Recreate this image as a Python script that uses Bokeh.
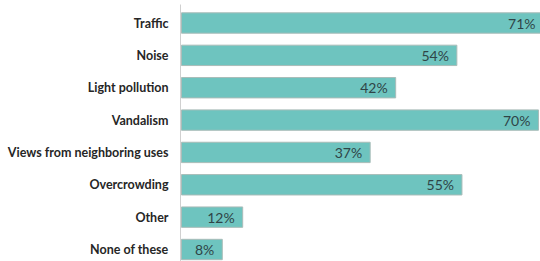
from bokeh.plotting import figure
from bokeh.models import ColumnDataSource, Range1d, FixedTicker
from bokeh.core.properties import value
from bokeh.embed import file_html
from bokeh.resources import INLINE

categories = ["Traffic", "Noise", "Light pollution", "Vandalism",
              "Views from neighboring uses", "Overcrowding", "Other", "None of these"]
values = [71, 54, 42, 70, 37, 55, 12, 8]
labels = [f"{v}%" for v in values]
positions = list(range(len(categories)))

src = ColumnDataSource(dict(y=positions, v=values, lab=labels))

p = figure(width=540, height=261, output_backend="svg", toolbar_location=None,
           x_range=Range1d(-0.196, 70.4), y_range=Range1d(7.371, -0.572),
           min_border_left=180, min_border_right=0, min_border_top=4, min_border_bottom=0,
           x_axis_location=None)

p.hbar(y="y", left=0, right="v", height=0.63, source=src,
       fill_color="#6ec4bf", line_color="#a9bcb8", line_width=1)

p.text(x="v", y="y", text="lab", source=src, x_offset=-8,
       text_align="right", text_baseline="middle",
       text_font=value("Lato"), text_font_size="14px", text_color="#2f4447")

ax = p.yaxis[0]
ax.ticker = FixedTicker(ticks=positions)
ax.major_label_overrides = {i: c for i, c in zip(positions, categories)}
ax.major_tick_line_color = None
ax.minor_tick_line_color = None
ax.major_tick_out = 0
ax.major_tick_in = 0
ax.major_label_standoff = 12
ax.axis_line_color = "#d0d0d0"
ax.major_label_text_font = "Lato"
ax.major_label_text_font_style = "bold"
ax.major_label_text_font_size = "12.5px"
ax.major_label_text_color = "#262626"

p.xgrid.grid_line_color = None
p.ygrid.grid_line_color = None
p.outline_line_color = None

open("out.html", "w").write(file_html(p, INLINE))
